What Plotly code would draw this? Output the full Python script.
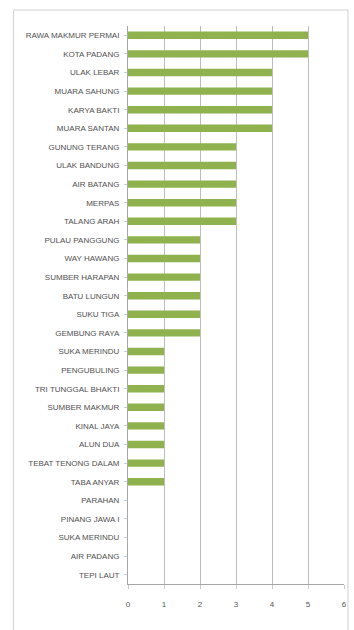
import plotly.graph_objects as go

# Jumlah per desa (urutan dari atas ke bawah)
desa = [
    "RAWA MAKMUR PERMAI", "KOTA PADANG", "ULAK LEBAR", "MUARA SAHUNG",
    "KARYA BAKTI", "MUARA SANTAN", "GUNUNG TERANG", "ULAK BANDUNG",
    "AIR BATANG", "MERPAS", "TALANG ARAH", "PULAU PANGGUNG",
    "WAY HAWANG", "SUMBER HARAPAN", "BATU LUNGUN", "SUKU TIGA",
    "GEMBUNG RAYA", "SUKA MERINDU", "PENGUBULING", "TRI TUNGGAL BHAKTI",
    "SUMBER MAKMUR", "KINAL JAYA", "ALUN DUA", "TEBAT TENONG DALAM",
    "TABA ANYAR", "PARAHAN", "PINANG JAWA I", "SUKA MERINDU",
    "AIR PADANG", "TEPI LAUT",
]
jumlah = [5, 5, 4, 4, 4, 4, 3, 3, 3, 3, 3, 2, 2, 2, 2, 2, 2,
          1, 1, 1, 1, 1, 1, 1, 1, 0, 0, 0, 0, 0]
x_ticks = [0, 1, 2, 3, 4, 5, 6]

pos = list(range(len(desa)))

fig = go.Figure(go.Bar(
    x=jumlah, y=pos, orientation="h",
    width=0.4,
    marker=dict(color="#90b24e", line=dict(width=0)),
))

W, H = 354, 630
L, R, T, B = 128, 7, 26, 46
pw, ph = W - L - R, H - T - B

def px(x):
    return (x - L) / pw

def py(y):
    return (H - B - y) / ph

fig.update_layout(
    width=W, height=H,
    margin=dict(l=L, r=R, t=T, b=B),
    paper_bgcolor="white", plot_bgcolor="white",
    showlegend=False,
    font=dict(family="Liberation Sans, Arial, sans-serif", size=8, color="#555"),
    xaxis=dict(
        range=[0, 6], tickvals=x_ticks, ticktext=[str(v) for v in x_ticks],
        showgrid=True, gridcolor="#bdbdbd", gridwidth=1,
        zeroline=False, showline=True, linecolor="#a6a6a6", linewidth=1,
        ticks="outside", ticklen=4, tickcolor="#c8c8c8",
        ticklabelstandoff=8,
        tickfont=dict(size=8, color="#555"), fixedrange=True,
    ),
    yaxis=dict(
        range=[len(desa) - 0.5, -0.5],
        tickvals=pos, ticktext=desa,
        showgrid=False, zeroline=False,
        showline=True, linecolor="#a6a6a6", linewidth=1,
        ticks="outside", ticklen=3, tickcolor="#c5cde0",
        ticklabelstandoff=3,
        tickfont=dict(size=8, color="#505050"), fixedrange=True,
    ),
    shapes=[dict(
        type="rect", xref="paper", yref="paper",
        x0=px(12), x1=px(351), y0=py(634), y1=py(10),
        line=dict(color="#d0d0d0", width=1), layer="below",
    )],
)

fig.write_html("out.html")
